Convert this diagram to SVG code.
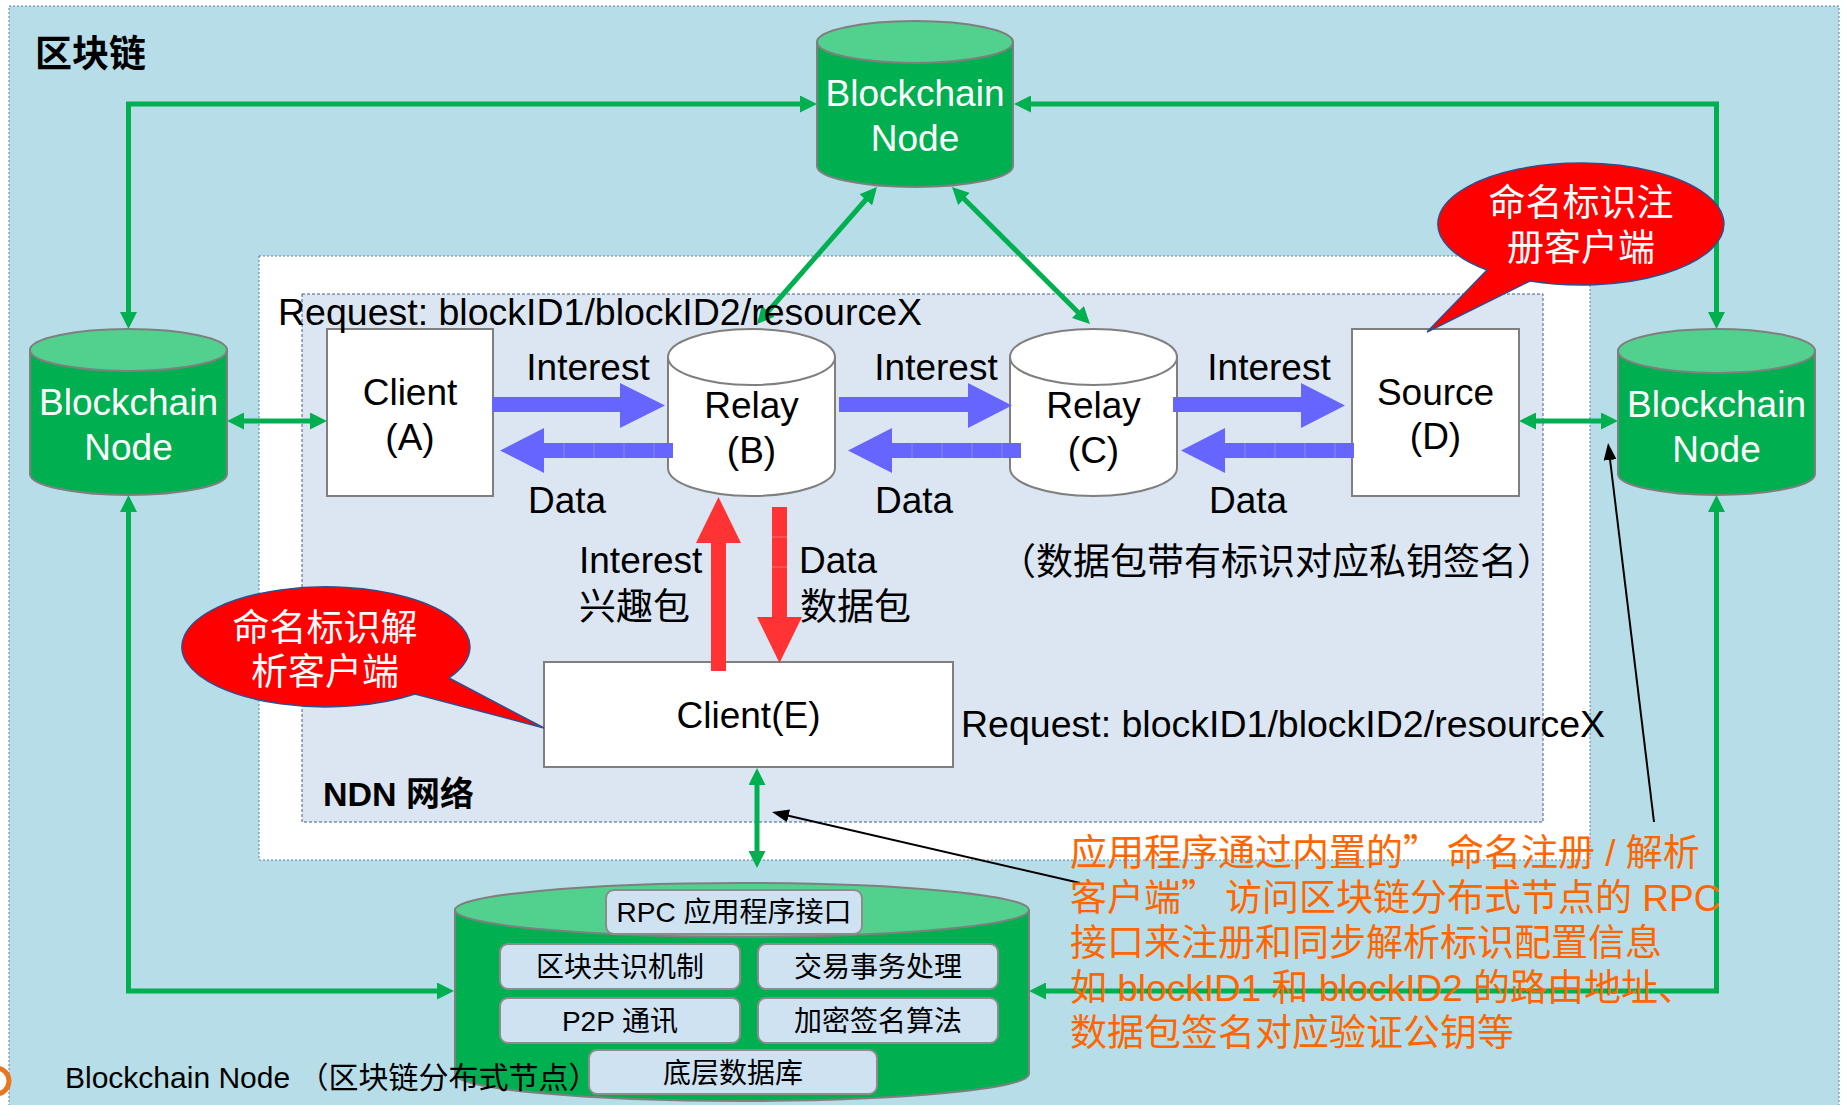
<svg xmlns="http://www.w3.org/2000/svg" width="1844" height="1105" viewBox="0 0 1844 1105">
<defs>
<style>
text{font-family:"Liberation Sans","Noto Sans CJK SC",sans-serif;}
.t37{font-size:37px;fill:#000;}
.req{font-size:37.5px;fill:#000;}
.w37{font-size:37px;fill:#fff;}
.cjk{font-family:"Noto Sans CJK SC","Liberation Sans",sans-serif;}
.or{font-size:37px;fill:#FF6600;}
.db{font-size:28px;fill:#000;text-anchor:middle;}
.mid{text-anchor:middle;}
.gline{fill:none;stroke:#00B050;stroke-width:5;stroke-linejoin:miter;marker-start:url(#ga);marker-end:url(#ga);}
.bline{fill:none;stroke:#000;stroke-width:2;marker-end:url(#ba);}
.cylbody{fill:#00B050;stroke:#7F7F7F;stroke-width:2;}
.cyltop{fill:#52D18E;stroke:#7F7F7F;stroke-width:2;}
.relay{fill:#fff;stroke:#7F7F7F;stroke-width:2;}
.box{fill:#fff;stroke:#7F7F7F;stroke-width:2;}
.blue{fill:#6666FF;}
.red{fill:#FF3333;}
.seg{stroke:#8A8AFF;stroke-width:1;}
.rseg{stroke:#FF7070;stroke-width:1;}
.bubble{fill:#FF0000;stroke:#2F4F8F;stroke-width:1.5;}
.inbox{fill:#CFE2F2;stroke:#8C8C8C;stroke-width:2;}
</style>
<marker id="ga" markerUnits="userSpaceOnUse" markerWidth="17" markerHeight="17" refX="9" refY="8.5" orient="auto-start-reverse" viewBox="0 0 17 17">
<path d="M0,0 L17,8.5 L0,17 z" fill="#00B050"/>
</marker>
<marker id="ba" markerUnits="userSpaceOnUse" markerWidth="17" markerHeight="13" refX="9" refY="6.5" orient="auto" viewBox="0 0 17 13">
<path d="M0,0 L17,6.5 L0,13 z" fill="#000"/>
</marker>
</defs>

<!-- backgrounds -->
<g id="bg">
<rect x="0" y="0" width="1844" height="1105" fill="#fff"/>
<rect x="9" y="6" width="1830" height="1110" fill="#B7DDE8" stroke="#5A7FA8" stroke-width="1" stroke-dasharray="2,2"/>
<rect x="259" y="256" width="1331" height="604" fill="#fff" stroke="#5A7FA8" stroke-width="1" stroke-dasharray="2,2"/>
<rect x="302" y="294" width="1241" height="528" fill="#DCE6F2" stroke="#3F5F8F" stroke-width="1" stroke-dasharray="3,2"/>
<path d="M-4,1068 A13,13 0 0 1 -4,1094" fill="none" stroke="#E87722" stroke-width="5"/>
<text x="35" y="67" font-size="37" font-weight="bold" class="cjk">区块链</text>
<text x="323" y="806" font-size="34" font-weight="bold">NDN 网络</text>
</g>

<!-- connectors -->
<g id="connectors">
<path class="gline" d="M128.5,321 L128.5,104 L809,104"/>
<path class="gline" d="M1022,104 L1716.5,104 L1716.5,321"/>
<path class="gline" d="M128.5,503 L128.5,991 L446,991"/>
<path class="gline" d="M1716.5,503 L1716.5,991 L1037,991"/>
<path class="gline" d="M235,421 L319,421"/>
<path class="gline" d="M1527,421 L1610,421"/>
<path class="gline" d="M871.7,193 L762.3,318"/>
<path class="gline" d="M957.7,192.6 L1084.3,318.4"/>
<path class="gline" d="M757,776 L757,860"/>
</g>

<!-- blockchain nodes -->
<g id="bn-top">
<path class="cylbody" d="M817,42 L817,166 A98,21 0 0 0 1013,166 L1013,42 Z"/>
<ellipse class="cyltop" cx="915" cy="42" rx="98" ry="21"/>
<text class="w37 mid" x="915" y="106">Blockchain</text>
<text class="w37 mid" x="915" y="151">Node</text>
</g>
<g id="bn-left">
<path class="cylbody" d="M30,350 L30,474 A98.5,21 0 0 0 227,474 L227,350 Z"/>
<ellipse class="cyltop" cx="128.5" cy="350" rx="98.5" ry="21"/>
<text class="w37 mid" x="128.5" y="415">Blockchain</text>
<text class="w37 mid" x="128.5" y="460">Node</text>
</g>
<g id="bn-right">
<path class="cylbody" d="M1618,351 L1618,474 A98.5,21 0 0 0 1815,474 L1815,351 Z"/>
<ellipse class="cyltop" cx="1716.5" cy="351" rx="98.5" ry="22"/>
<text class="w37 mid" x="1716.5" y="417">Blockchain</text>
<text class="w37 mid" x="1716.5" y="462">Node</text>
</g>

<!-- NDN nodes -->
<g id="client-a">
<rect class="box" x="327" y="329" width="166" height="167"/>
<text class="t37 mid" x="410" y="405">Client</text>
<text class="t37 mid" x="410" y="450">(A)</text>
</g>
<g id="relay-b">
<path class="relay" d="M668,357 L668,468 A83.5,28 0 0 0 835,468 L835,357 Z"/>
<ellipse class="relay" cx="751.5" cy="357" rx="83.5" ry="28"/>
<text class="t37 mid" x="751.5" y="418">Relay</text>
<text class="t37 mid" x="751.5" y="463">(B)</text>
</g>
<g id="relay-c">
<path class="relay" d="M1010,357 L1010,468 A83.5,28 0 0 0 1177,468 L1177,357 Z"/>
<ellipse class="relay" cx="1093.5" cy="357" rx="83.5" ry="28"/>
<text class="t37 mid" x="1093.5" y="418">Relay</text>
<text class="t37 mid" x="1093.5" y="463">(C)</text>
</g>
<g id="source-d">
<rect class="box" x="1352" y="329" width="167" height="167"/>
<text class="t37 mid" x="1435.5" y="405">Source</text>
<text class="t37 mid" x="1435.5" y="449">(D)</text>
</g>
<g id="client-e">
<rect class="box" x="544" y="662" width="409" height="105"/>
<text class="t37 mid" x="748.5" y="728">Client(E)</text>
</g>

<!-- packet arrows -->
<g id="packet-arrows">
<polygon class="blue" points="492,397 620,397 620,383 665,405.5 620,428 620,412 492,412"/>
<polygon class="blue" points="673,443 544,443 544,428 500,450.5 544,473 544,458 673,458"/>
<path class="seg" d="M564,443 V458 M594,443 V458 M624,443 V458 M654,443 V458"/>
<polygon class="blue" points="839,397 968,397 968,383 1012,405.5 968,428 968,412 839,412"/>
<polygon class="blue" points="1021,443 892,443 892,428 848,450.5 892,473 892,458 1021,458"/>
<path class="seg" d="M912,443 V458 M942,443 V458 M972,443 V458 M1002,443 V458"/>
<polygon class="blue" points="1173,397 1301,397 1301,383 1345,405.5 1301,428 1301,412 1173,412"/>
<polygon class="blue" points="1354,443 1225,443 1225,428 1181,450.5 1225,473 1225,458 1354,458"/>
<path class="seg" d="M1245,443 V458 M1275,443 V458 M1305,443 V458 M1335,443 V458"/>
<polygon class="red" points="711,671 711,543 696,543 718.5,497 741,543 726,543 726,671"/>
<polygon class="red" points="772,507 787,507 787,617 802,617 779.5,663 757,617 772,617"/>
<path class="rseg" d="M772,537 H787 M772,567 H787"/>
<text class="t37 mid" x="588" y="380">Interest</text>
<text class="t37 mid" x="567" y="513">Data</text>
<text class="t37 mid" x="936" y="380">Interest</text>
<text class="t37 mid" x="914" y="513">Data</text>
<text class="t37 mid" x="1269" y="380">Interest</text>
<text class="t37 mid" x="1248" y="513">Data</text>
<text class="t37" x="579" y="573">Interest</text>
<text class="t37" x="579" y="620">兴趣包</text>
<text class="t37" x="799" y="573">Data</text>
<text class="t37" x="800" y="620">数据包</text>
<text class="req" x="278" y="325">Request: blockID1/blockID2/resourceX</text>
<text class="req" x="961" y="737">Request: blockID1/blockID2/resourceX</text>
<text class="t37" x="999" y="575">（数据包带有标识对应私钥签名）</text>
</g>

<!-- bubbles -->
<g id="bubble-register">
<path class="bubble" d="M1530,281 L1427,332 L1487,270 A143,61 0 1 1 1530,281 Z"/>
<text class="w37 mid" x="1581" y="216">命名标识注</text>
<text class="w37 mid" x="1581" y="261">册客户端</text>
</g>
<g id="bubble-resolve">
<path class="bubble" d="M449,678 L544,728 L415,694 A144,60 0 1 1 449,678 Z"/>
<text class="w37 mid" x="325" y="641">命名标识解</text>
<text class="w37 mid" x="325" y="685">析客户端</text>
</g>

<!-- blockchain distributed node -->
<g id="bn-db">
<path class="cylbody" d="M455,910 L455,1074 A287,27 0 0 0 1029,1074 L1029,910 Z"/>
<ellipse class="cyltop" cx="742" cy="910" rx="287" ry="27"/>
<rect class="inbox" x="606" y="890" width="256" height="44" rx="8"/>
<text class="db" x="734" y="922">RPC 应用程序接口</text>
<rect class="inbox" x="500" y="944" width="240" height="45" rx="8"/>
<text class="db" x="620" y="977">区块共识机制</text>
<rect class="inbox" x="758" y="944" width="240" height="45" rx="8"/>
<text class="db" x="878" y="977">交易事务处理</text>
<rect class="inbox" x="500" y="998" width="240" height="45" rx="8"/>
<text class="db" x="620" y="1031">P2P 通讯</text>
<rect class="inbox" x="758" y="998" width="240" height="45" rx="8"/>
<text class="db" x="878" y="1031">加密签名算法</text>
<rect class="inbox" x="589" y="1050" width="288" height="44" rx="8"/>
<text class="db" x="733" y="1083">底层数据库</text>
<text x="65" y="1088" font-size="30">Blockchain Node （区块链分布式节点）</text>
</g>

<!-- annotation -->
<g id="annotation">
<path class="bline" d="M1080,883 L779.8,813.8"/>
<path class="bline" d="M1654,822 L1609,451"/>
<text class="or" x="1070" y="866">应用程序通过内置的<tspan class="cjk">”</tspan><tspan dx="7">命名注册 / 解析</tspan></text>
<text class="or" x="1070" y="911">客户端<tspan class="cjk">”</tspan><tspan dx="7">访问区块链分布式节点的 RPC</tspan></text>
<text class="or" x="1070" y="956">接口来注册和同步解析标识配置信息</text>
<text class="or" x="1070" y="1001">如 blockID1 和 blockID2 的路由地址、</text>
<text class="or" x="1070" y="1046">数据包签名对应验证公钥等</text>
</g>
</svg>
